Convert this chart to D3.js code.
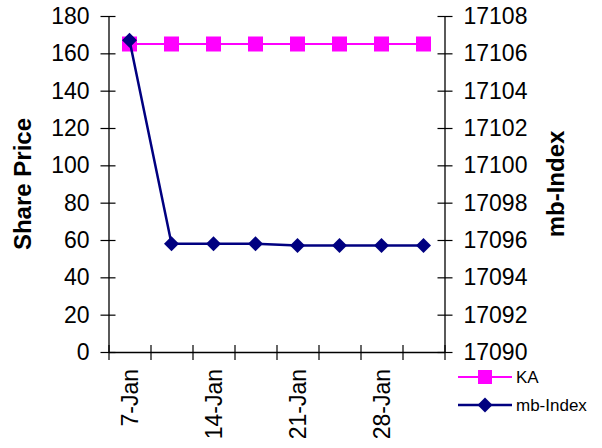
<!DOCTYPE html>
<html><head><meta charset="utf-8">
<script src="https://cdn.jsdelivr.net/npm/d3@7"></script>
<style>
html,body{margin:0;padding:0;background:#fff;}
svg{display:block;font-family:"Liberation Sans",Arial,sans-serif;}
</style></head>
<body>
<svg id="chart" width="602" height="448"></svg>
<script>
const categories = ["7-Jan","10-Jan","14-Jan","17-Jan","21-Jan","24-Jan","28-Jan","31-Jan"];
const tickLabels = ["7-Jan","14-Jan","21-Jan","28-Jan"];
const kaValues = [165,165,165,165,165,165,165,165];
const mbIndexValues = [17106.7,17095.8,17095.8,17095.8,17095.7,17095.7,17095.7,17095.7];
const leftTicks = [0,20,40,60,80,100,120,140,160,180];
const rightTicks = [17090,17092,17094,17096,17098,17100,17102,17104,17106,17108];

const svg = d3.select("#chart");
const L = 108.5, R = 444.5, T = 16, B = 352;

const x = d3.scaleBand().domain(categories).range([L, R]);
const xb = d3.scaleLinear().domain([0, categories.length]).range([L, R]);
const yL = d3.scaleLinear().domain([0,180]).range([B, T]);
const yR = d3.scaleLinear().domain([17090,17108]).range([B, T]);

const fs = 23;

// left axis
const gL = svg.append("g").attr("transform",`translate(${L},0)`)
  .call(d3.axisLeft(yL).tickValues(leftTicks).tickFormat(d3.format("d")).tickSizeOuter(0).tickSizeInner(8).tickPadding(11));
gL.selectAll(".tick line").attr("x1",7).attr("x2",-8);
// right axis
const gR = svg.append("g").attr("transform",`translate(${R},0)`)
  .call(d3.axisRight(yR).tickValues(rightTicks).tickFormat(d3.format("d")).tickSizeOuter(0).tickSizeInner(8).tickPadding(11));
gR.selectAll(".tick line").attr("x1",-7).attr("x2",8);
// bottom axis
const gB = svg.append("g").attr("transform",`translate(0,${B})`)
  .call(d3.axisBottom(xb).tickValues(d3.range(categories.length+1)).tickSizeOuter(0).tickSizeInner(8).tickFormat(""));
gB.selectAll(".tick line").attr("y1",-7).attr("y2",8);

[gL,gR,gB].forEach(g=>{
  g.selectAll("path.domain").attr("stroke","#000").attr("stroke-width",1.3);
  g.selectAll(".tick line").attr("stroke","#000").attr("stroke-width",1.2);
  g.selectAll(".tick text").attr("font-size",fs).attr("fill","#000").attr("font-family","Liberation Sans, Arial, sans-serif");
});

// x labels
svg.append("g").selectAll("text").data(tickLabels).join("text")
  .attr("transform",d=>`translate(${x(d)+x.bandwidth()/2+8},${369}) rotate(-90)`)
  .attr("text-anchor","end").attr("font-size",fs).attr("fill","#000").text(d=>d);

// axis titles
svg.append("text").attr("transform",`translate(31,${T+(B-T)/2}) rotate(-90)`)
  .attr("text-anchor","middle").attr("font-size",24).attr("font-weight","bold").text("Share Price");
svg.append("text").attr("transform",`translate(564,${T+(B-T)/2}) rotate(-90)`)
  .attr("text-anchor","middle").attr("font-size",24).attr("font-weight","bold").text("mb-Index");

const cx = (d,i)=>x(categories[i])+x.bandwidth()/2;

// KA series
svg.append("path").datum(kaValues)
  .attr("d", d3.line().x((d,i)=>cx(d,i)).y(d=>yL(d)))
  .attr("fill","none").attr("stroke","#FF00FF").attr("stroke-width",2.2);
svg.append("g").selectAll("rect").data(kaValues).join("rect")
  .attr("x",(d,i)=>cx(d,i)-7.5).attr("y",d=>yL(d)-7.5).attr("width",15).attr("height",15)
  .attr("fill","#FF00FF");

// mb-Index series
svg.append("path").datum(mbIndexValues)
  .attr("d", d3.line().x((d,i)=>cx(d,i)).y(d=>yR(d)))
  .attr("fill","none").attr("stroke","#000080").attr("stroke-width",2.5);
const diamond = d3.symbol().type(d3.symbolSquare).size(112);
svg.append("g").selectAll("path").data(mbIndexValues).join("path")
  .attr("d",diamond())
  .attr("transform",(d,i)=>`translate(${cx(d,i)},${yR(d)}) rotate(45)`)
  .attr("fill","#000080");

// legend
const leg = svg.append("g");
const lx1 = 458, lx2 = 512, lmx = 485;
leg.append("line").attr("x1",lx1).attr("x2",lx2).attr("y1",377).attr("y2",377).attr("stroke","#FF00FF").attr("stroke-width",2.2);
leg.append("rect").attr("x",lmx-7).attr("y",377-7).attr("width",14).attr("height",14).attr("fill","#FF00FF");
leg.append("text").attr("x",516).attr("y",377).attr("dy","0.35em").attr("font-size",17).text("KA");
leg.append("line").attr("x1",lx1).attr("x2",lx2).attr("y1",405).attr("y2",405).attr("stroke","#000080").attr("stroke-width",2.5);
leg.append("path").attr("d",diamond()).attr("transform",`translate(${lmx},405) rotate(45)`).attr("fill","#000080");
leg.append("text").attr("x",516).attr("y",405).attr("dy","0.35em").attr("font-size",17).text("mb-Index");
</script>
</body></html>
